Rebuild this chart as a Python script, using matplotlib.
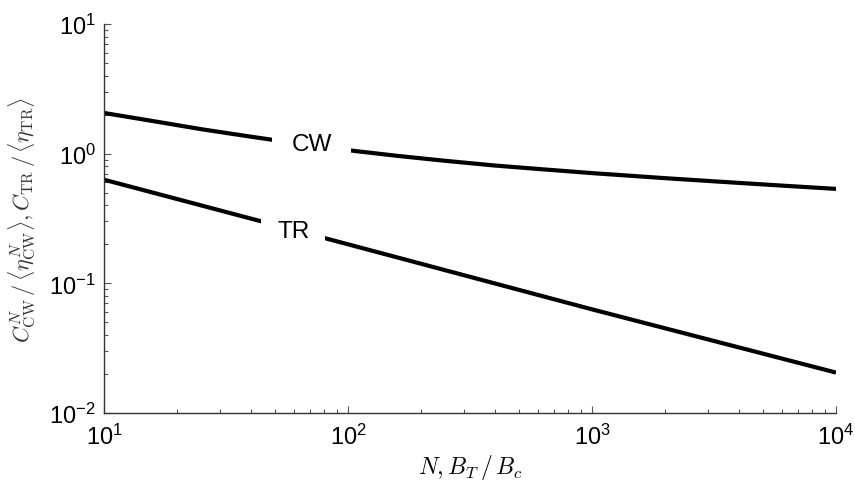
import matplotlib
matplotlib.use("Agg")
import matplotlib.pyplot as plt
from matplotlib.ticker import LogLocator, NullFormatter

plt.rcParams['font.family'] = ['Liberation Sans', 'DejaVu Sans']
plt.rcParams['mathtext.fontset'] = 'cm'

# Data
cw_n = [10, 16, 25, 40, 63, 100, 160, 250, 400, 630, 1000, 2000, 3160, 6300, 10000]
cw_val = [2.06, 1.78, 1.545, 1.352, 1.194, 1.064, 0.961, 0.881, 0.81, 0.757,
          0.708, 0.647, 0.612, 0.564, 0.535]
tr_n = [10, 100, 1000, 10000]
tr_val = [0.63, 0.2, 0.063, 0.0205]
labels = ["CW", "TR"]
label_pos = [(71, 1.19), (59.6, 0.254)]

fig = plt.figure(figsize=(8.55, 4.89), dpi=100)
ax = fig.add_axes([104/855, 1-414/489, (836-104)/855, (414-25)/489])

ax.plot(cw_n, cw_val, color='black', lw=3, solid_capstyle='butt', zorder=2)
ax.plot(tr_n, tr_val, color='black', lw=3, solid_capstyle='butt', zorder=2)

pads = [0.8, 0.64]
for lab, (lx, ly), pd in zip(labels, label_pos, pads):
    ax.text(lx, ly, lab, fontsize=17.5, ha='center', va='center', zorder=3,
            bbox=dict(boxstyle=f'square,pad={pd}', facecolor='white', edgecolor='none'))

ax.set_xscale('log')
ax.set_yscale('log')
ax.set_xlim(10, 1e4)
ax.set_ylim(1e-2, 1e1)

ax.spines['top'].set_visible(False)
ax.spines['right'].set_visible(False)
for s in ['left', 'bottom']:
    ax.spines[s].set_color('#333333')
    ax.spines[s].set_linewidth(1.0)

ax.xaxis.set_major_locator(LogLocator(base=10, numticks=10))
ax.yaxis.set_major_locator(LogLocator(base=10, numticks=10))
ax.xaxis.set_minor_locator(LogLocator(base=10, subs=range(2, 10), numticks=20))
ax.yaxis.set_minor_locator(LogLocator(base=10, subs=range(2, 10), numticks=20))
ax.xaxis.set_minor_formatter(NullFormatter())
ax.yaxis.set_minor_formatter(NullFormatter())

ax.tick_params(which='major', direction='in', length=5, width=0.8, color='#555555',
               labelsize=17, pad=8)
ax.tick_params(which='minor', direction='in', length=3, width=0.8, color='#555555')
ax.tick_params(axis='y', which='major', pad=6)

ax.set_xlabel(r'$N, B_T\,/\,B_c$', fontsize=17, labelpad=2)
ax.set_ylabel(r'$C^N_{\rm CW}\,/\,\langle\eta^N_{\rm CW}\rangle, C_{\rm TR}\,/\,\langle\eta_{\rm TR}\rangle$',
              fontsize=16, color='#333333', labelpad=8)

fig.savefig('out.png', dpi=100)
